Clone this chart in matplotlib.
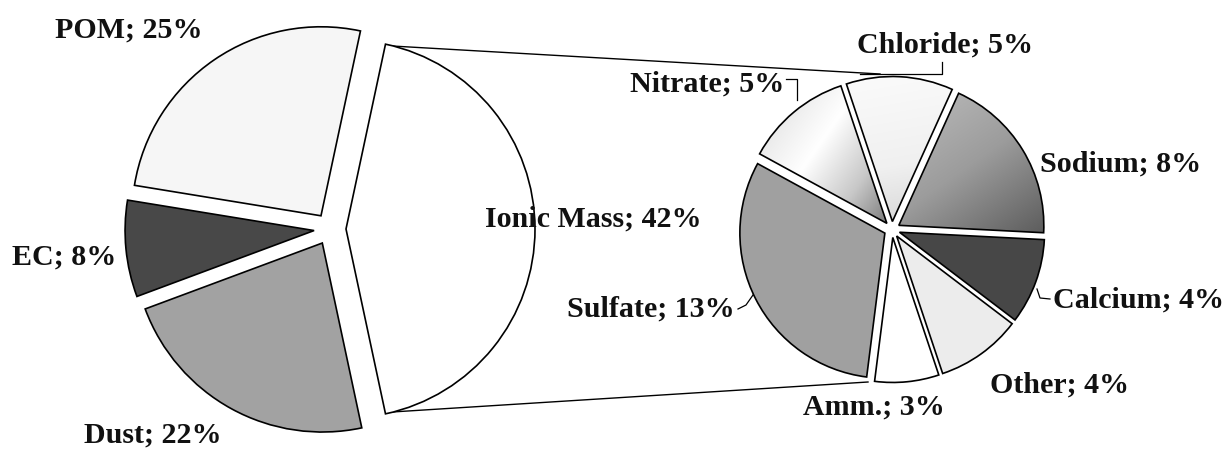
import matplotlib
matplotlib.use("Agg")
import matplotlib.pyplot as plt
import numpy as np
from matplotlib.colors import to_rgb

# ---------------- data ----------------
main_labels = ["Ionic Mass", "POM", "EC", "Dust"]
main_values = [42, 25, 8, 22]

ion_labels = ["Chloride", "Sodium", "Calcium", "Other", "Amm.", "Sulfate", "Nitrate"]
ion_values = [5, 8, 4, 4, 3, 13, 5]

# ---------------- style / layout ----------------
main_colors = ["#ffffff", "#f6f6f6", "#484848", "#a2a2a2"]
ion_colors = ["#f2f2f2", "#9a9a9a", "#474747", "#ececec", "#ffffff", "#a0a0a0", "#e6e6e6"]

W, H = 1231, 449
def Y(y):
    return H - y

fig = plt.figure(figsize=(W / 100, H / 100), dpi=100)
ax = fig.add_axes([0, 0, 1, 1])

edge = dict(edgecolor="black", linewidth=1.2)

# primary pie
c1 = (330, Y(229)); r1 = 189
start1 = -main_values[0] / sum(main_values) * 360 / 2
w1, _ = ax.pie(main_values, colors=main_colors, center=c1, radius=r1,
               startangle=start1, counterclock=True,
               explode=[16] * len(main_values), wedgeprops=edge, frame=True)

# secondary pie
c2 = (892, Y(229.5)); r2 = 145
w2, _ = ax.pie(ion_values, colors=ion_colors, center=c2, radius=r2,
               startangle=108.5, counterclock=False,
               explode=[8] * len(ion_values), wedgeprops=edge, frame=True)


def gradient_fill(wedge, stops, angle_deg):
    verts = wedge.get_path().vertices
    xmin, ymin = verts.min(axis=0)
    xmax, ymax = verts.max(axis=0)
    nx, ny = 200, 200
    xs = np.linspace(xmin, xmax, nx)
    ys = np.linspace(ymin, ymax, ny)
    X, Yg = np.meshgrid(xs, ys)
    d = np.array([np.cos(np.radians(angle_deg)), np.sin(np.radians(angle_deg))])
    p = X * d[0] + Yg * d[1]
    t = (p - p.min()) / (p.max() - p.min())
    pos = [s[0] for s in stops]
    cols = np.array([to_rgb(s[1]) for s in stops])
    img = np.zeros((ny, nx, 3))
    for k in range(3):
        img[..., k] = np.interp(t, pos, cols[:, k])
    im = ax.imshow(img, extent=(xmin, xmax, ymin, ymax), origin="lower",
                   zorder=wedge.get_zorder() - 0.01, interpolation="bilinear")
    im.set_clip_path(wedge)
    wedge.set_facecolor("none")


# gradients: Chloride, Sodium, Nitrate
gradient_fill(w2[0], [(0, "#fbfbfb"), (0.6, "#f0f0f0"), (1, "#d6d6d6")], -80)
gradient_fill(w2[1], [(0, "#bdbdbd"), (0.5, "#9c9c9c"), (1, "#5c5c5c")], -55)
gradient_fill(w2[6], [(0, "#dadada"), (0.45, "#ffffff"), (0.75, "#c8c8c8"), (1, "#7c7c7c")], -35)

# connector lines
ax.plot([392, 880], [Y(46), Y(74)], color="black", lw=1.0, zorder=0.5)
ax.plot([392, 868], [Y(412), Y(382)], color="black", lw=1.0, zorder=0.5)

# leader lines
lk = dict(color="black", lw=0.9)
ax.plot([942, 942, 860], [Y(62), Y(74), Y(74)], **lk)
ax.plot([786, 797, 797], [Y(79), Y(79), Y(100)], **lk)
ax.plot([738, 746, 753], [Y(309), Y(305), Y(295)], **lk)
ax.plot([1037, 1040, 1050], [Y(289), Y(298), Y(299)], **lk)

# labels
font = dict(family="Liberation Serif", fontweight="bold", fontsize=21.6, color="#111111",
            ha="left", va="baseline")
main_pos = [(485, 227), (55, 38), (12, 265), (84, 443)]
ion_pos = [(857, 53), (1040, 172), (1053, 308), (990, 393), (803, 415), (567, 317), (630, 92)]
for name, val, (x, y) in zip(main_labels, main_values, main_pos):
    ax.text(x, Y(y), f"{name}; {val}%", zorder=5, **font)
for name, val, (x, y) in zip(ion_labels, ion_values, ion_pos):
    ax.text(x, Y(y), f"{name}; {val}%", zorder=5, **font)

ax.set_xlim(0, W)
ax.set_ylim(0, H)
ax.set_aspect("equal")
ax.axis("off")
fig.savefig("out.png", dpi=100, facecolor="white")
